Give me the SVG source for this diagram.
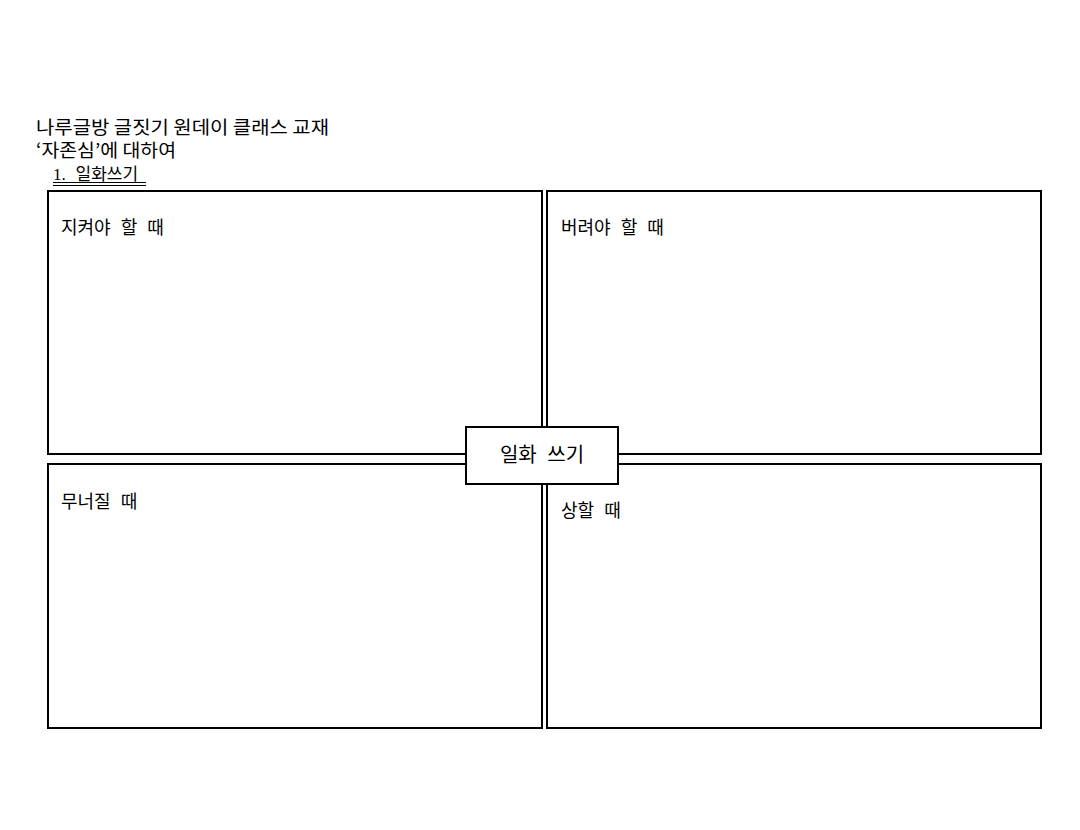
<svg xmlns="http://www.w3.org/2000/svg" width="1080" height="830" viewBox="0 0 1080 830">
<style>
text{font-family:"Noto Sans CJK KR","Noto Sans",sans-serif;fill:#000}
.box{fill:#fff;stroke:#000;stroke-width:2}
.t{font-size:18px}
.lbl{font-size:18px;word-spacing:6px}
.c{font-size:20px;word-spacing:6px}
.ln{stroke:#000;stroke-width:1}
</style>
<rect width="1080" height="830" fill="#fff"/>
<g id="header">
<text class="t" x="36" y="134" textLength="293" lengthAdjust="spacingAndGlyphs">나루글방 글짓기 원데이 클래스 교재</text>
<text class="t" x="36" y="157" textLength="140" lengthAdjust="spacingAndGlyphs">‘자존심’에 대하여</text>
<text x="53" y="180" font-size="17" word-spacing="6"><tspan font-family="Liberation Serif,serif">1.</tspan> 일화쓰기</text>
<line class="ln" x1="53" y1="182.5" x2="146" y2="182.5"/>
<line class="ln" x1="53" y1="185.5" x2="146" y2="185.5"/>
</g>
<g id="connectors">
<line class="ln" x1="542" y1="454" x2="547" y2="454"/>
</g>
<g id="q1">
<rect class="box" x="48" y="191" width="494" height="263"/>
<text class="lbl" x="61" y="234">지켜야 할 때</text>
</g>
<g id="q2">
<rect class="box" x="547" y="191" width="494" height="263"/>
<text class="lbl" x="561" y="234">버려야 할 때</text>
</g>
<g id="q3">
<rect class="box" x="48" y="464" width="494" height="264"/>
<text class="lbl" x="61" y="508">무너질 때</text>
</g>
<g id="q4">
<rect class="box" x="547" y="464" width="494" height="264"/>
<text class="lbl" x="561" y="517">상할 때</text>
</g>
<g id="center">
<rect class="box" x="466" y="427" width="152" height="57"/>
<text class="c" x="542" y="462" text-anchor="middle">일화 쓰기</text>
</g>
</svg>
